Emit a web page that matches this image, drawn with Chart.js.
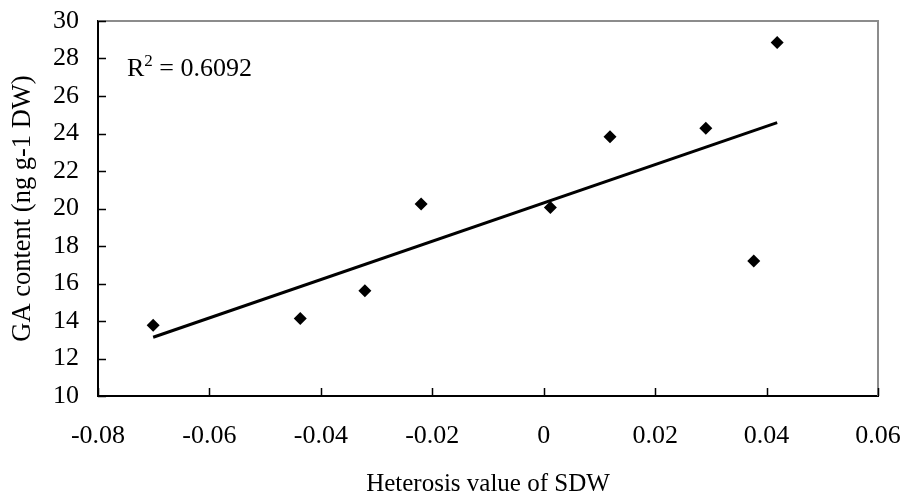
<!DOCTYPE html>
<html>
<head>
<meta charset="utf-8">
<title>GA content vs heterosis of SDW</title>
<script src="https://cdn.jsdelivr.net/npm/chart.js@4.4.1/dist/chart.umd.min.js"></script>
<style>
  html, body { margin: 0; padding: 0; background: #fff; }
  #wrap { width: 907px; height: 498px; }
</style>
</head>
<body>
<div id="wrap"><canvas id="gaChart"></canvas></div>
<script>
// Heterosis value of SDW (x) against GA content (y)
const heterosisSDW = [-0.0701, -0.0437, -0.0321, -0.0220, 0.0012, 0.0119, 0.0291, 0.0377, 0.0419];
const gaContent = [13.77, 14.13, 15.62, 20.24, 20.05, 23.83, 24.28, 17.20, 28.86];
const rSquaredLabel = '0.6092';

const xTicks = [-0.08, -0.06, -0.04, -0.02, 0, 0.02, 0.04, 0.06];
const yTicks = [10, 12, 14, 16, 18, 20, 22, 24, 26, 28, 30];

const serif = '"Liberation Serif", "Times New Roman", serif';

// Least squares trend line over the points
function linearFit(xs, ys) {
  const n = xs.length;
  const mx = xs.reduce((a, b) => a + b, 0) / n;
  const my = ys.reduce((a, b) => a + b, 0) / n;
  let sxy = 0, sxx = 0;
  for (let i = 0; i < n; i++) {
    sxy += (xs[i] - mx) * (ys[i] - my);
    sxx += (xs[i] - mx) * (xs[i] - mx);
  }
  const slope = sxy / sxx;
  return { slope: slope, intercept: my - slope * mx };
}

const fit = linearFit(heterosisSDW, gaContent);
const xMin = Math.min.apply(null, heterosisSDW);
const xMax = Math.max.apply(null, heterosisSDW);
const trendPoints = [
  { x: xMin, y: fit.intercept + fit.slope * xMin },
  { x: xMax, y: fit.intercept + fit.slope * xMax }
];

const scatterPoints = heterosisSDW.map((x, i) => ({ x: x, y: gaContent[i] }));

// Frame (grey top/right), inward tick marks and the R² note
const framePlugin = {
  id: 'frame',
  afterDraw(chart) {
    const ctx = chart.ctx;
    const area = chart.chartArea;
    const xs = chart.scales.x;
    const ys = chart.scales.y;
    ctx.save();

    ctx.strokeStyle = '#8c8c8c';
    ctx.lineWidth = 2;
    ctx.beginPath();
    ctx.moveTo(area.left, area.top);
    ctx.lineTo(area.right, area.top);
    ctx.lineTo(area.right, area.bottom);
    ctx.stroke();

    ctx.strokeStyle = '#000';
    ctx.lineWidth = 1.5;
    ctx.beginPath();
    xTicks.forEach(v => {
      const px = Math.round(xs.getPixelForValue(v)) + 0.5;
      ctx.moveTo(px, area.bottom);
      ctx.lineTo(px, area.bottom - 8);
    });
    yTicks.forEach(v => {
      const py = Math.round(ys.getPixelForValue(v)) + 0.5;
      ctx.moveTo(area.left, py);
      ctx.lineTo(area.left + 8, py);
    });
    ctx.stroke();

    // R² = value
    ctx.fillStyle = '#000';
    ctx.textBaseline = 'alphabetic';
    ctx.textAlign = 'left';
    let tx = area.left + 29;
    const ty = area.top + 55;
    ctx.font = '26px ' + serif;
    ctx.fillText('R', tx, ty);
    tx += ctx.measureText('R').width;
    ctx.font = '17px ' + serif;
    ctx.fillText('2', tx, ty - 10);
    tx += ctx.measureText('2').width;
    ctx.font = '26px ' + serif;
    ctx.fillText(' = ' + rSquaredLabel, tx, ty);

    ctx.restore();
  }
};

new Chart(document.getElementById('gaChart'), {
  type: 'scatter',
  data: {
    datasets: [
      {
        label: 'GA content',
        data: scatterPoints,
        pointStyle: 'rectRot',
        pointRadius: 6.5,
        pointHoverRadius: 6.5,
        backgroundColor: '#000',
        borderColor: '#000',
        borderWidth: 0,
        order: 1
      },
      {
        label: 'Linear fit',
        type: 'line',
        data: trendPoints,
        borderColor: '#000',
        borderWidth: 3,
        pointRadius: 0,
        fill: false,
        tension: 0,
        order: 2
      }
    ]
  },
  plugins: [framePlugin],
  options: {
    responsive: true,
    maintainAspectRatio: false,
    animation: false,
    layout: { padding: { top: 21, right: 29, left: 0, bottom: 0 } },
    plugins: {
      legend: { display: false },
      tooltip: { enabled: false }
    },
    scales: {
      x: {
        type: 'linear',
        min: -0.08,
        max: 0.06,
        afterBuildTicks(scale) {
          scale.ticks = xTicks.map(v => ({ value: v }));
        },
        afterFit(scale) {
          scale.height = 102;
          scale.paddingLeft = 0;
          scale.paddingRight = 0;
        },
        grid: { display: false, drawTicks: false },
        border: { display: true, color: '#000', width: 2 },
        ticks: {
          color: '#000',
          padding: 25,
          maxRotation: 0,
          autoSkip: false,
          font: { family: serif, size: 26 },
          callback: v => String(Math.round(v * 100) / 100)
        },
        title: {
          display: true,
          text: 'Heterosis value of SDW',
          color: '#000',
          padding: { top: 0, bottom: -1 },
          font: { family: serif, size: 25 }
        }
      },
      y: {
        type: 'linear',
        min: 10,
        max: 30,
        afterBuildTicks(scale) {
          scale.ticks = yTicks.map(v => ({ value: v }));
        },
        afterFit(scale) {
          scale.width = 98;
          scale.paddingTop = 0;
          scale.paddingBottom = 0;
        },
        grid: { display: false, drawTicks: false },
        border: { display: true, color: '#000', width: 2 },
        ticks: {
          color: '#000',
          padding: 19,
          autoSkip: false,
          font: { family: serif, size: 26 }
        },
        title: {
          display: true,
          text: 'GA content (ng g-1 DW)',
          color: '#000',
          padding: { top: 7, bottom: 0 },
          font: { family: serif, size: 26.5 }
        }
      }
    }
  }
});
</script>
</body>
</html>
